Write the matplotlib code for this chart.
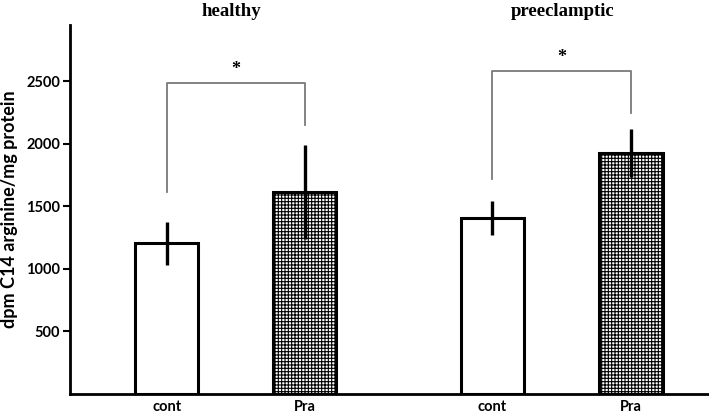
"""Bar chart: C14 arginine uptake, healthy vs preeclamptic, control vs Pra."""
import matplotlib
matplotlib.use("Agg")
import matplotlib.pyplot as plt

# Data
conditions = ["cont", "Pra", "cont", "Pra"]
groups = ["healthy", "preeclamptic"]
means = [1205, 1615, 1405, 1925]
errors = [172, 372, 136, 192]
hatches = ["", "+++++", "", "+++++"]

# significance brackets: (left bar, right bar), top, left end, right end
bracket_pairs = [(0, 1), (2, 3)]
bracket_tops = [2484, 2580]
bracket_left_ends = [1613, 1717]
bracket_right_ends = [2149, 2244]

x_pos = [1.0, 2.0, 3.36, 4.365]
title_x = [0.326, 0.793]

plt.rcParams["hatch.linewidth"] = 0.8
plt.rcParams["font.family"] = ["Lato", "DejaVu Sans"]

fig = plt.figure(figsize=(7.09, 4.18), dpi=100)
ax = fig.add_axes([0.0987, 0.0574, 0.9013, 0.8828])

ax.bar(x_pos, means, width=0.46, color="white", edgecolor="black",
       linewidth=2.2, hatch=hatches, zorder=2)
ax.errorbar(x_pos, means, yerr=errors, fmt="none", ecolor="black",
            elinewidth=2.4, capsize=0, zorder=3)

for (i, j), top, lo_l, lo_r in zip(bracket_pairs, bracket_tops,
                                   bracket_left_ends, bracket_right_ends):
    xl, xr = x_pos[i], x_pos[j]
    ax.plot([xl, xl, xr, xr], [lo_l, top, top, lo_r], color="#7a7a7a",
            linewidth=1.3, zorder=1)
    ax.text((xl + xr) / 2, top + 40, "*", ha="center", va="bottom",
            fontsize=13, family="Liberation Serif", fontweight="bold")

# group titles
for name, tx in zip(groups, title_x):
    fig.text(tx, 0.972, name, ha="center", va="center",
             fontsize=13.5, family="Liberation Serif", fontweight="bold")

ax.set_xlim(0.30, 4.93)
ax.set_ylim(0, 2950)
ax.set_yticks([500, 1000, 1500, 2000, 2500])
ax.set_xticks(x_pos)
ax.set_xticklabels(conditions, fontweight="bold", fontsize=10.5)
ax.tick_params(axis="x", length=0, pad=4)
ax.tick_params(axis="y", length=5, width=1.5, labelsize=10.5, pad=2)
for lab in ax.get_yticklabels():
    lab.set_fontweight("bold")

ax.spines["top"].set_visible(False)
ax.spines["right"].set_visible(False)
ax.spines["left"].set_linewidth(2.0)
ax.spines["bottom"].set_linewidth(2.0)

ax.set_ylabel("dpm C14 arginine/mg protein", fontsize=13, fontweight="bold",
              labelpad=6)

fig.savefig("out.png", dpi=100)
